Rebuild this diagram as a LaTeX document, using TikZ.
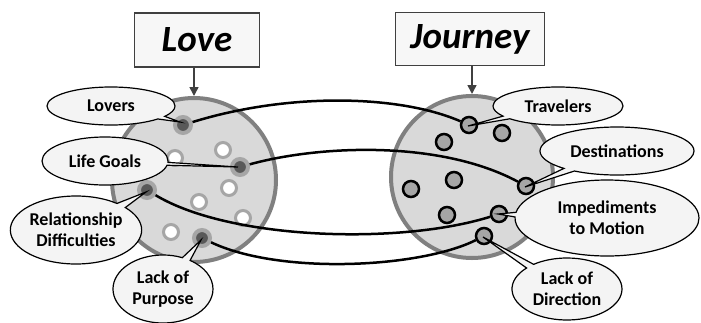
\documentclass[tikz,border=0pt]{standalone}
\usepackage{fontspec}
\setmainfont{Carlito}
\usetikzlibrary{shapes.callouts,arrows.meta}
\definecolor{circfill}{HTML}{D9D9D9}
\definecolor{circedge}{HTML}{808080}
\definecolor{halo}{HTML}{A6A6A6}
\definecolor{darkdot}{HTML}{595959}
\definecolor{bubfill}{HTML}{F4F4F4}
\definecolor{boxfill}{HTML}{F7F7F7}
\definecolor{boxedge}{HTML}{404040}
\tikzset{
  titlebox/.style={draw=boxedge,line width=1.8pt,fill=boxfill,inner sep=0pt,
    font=\fontsize{37}{40}\selectfont\bfseries\itshape},
  bigcirc/.style={circle,draw=circedge,fill=circfill,line width=4pt,inner sep=0pt},
  ldot/.style={circle,fill=darkdot,draw=halo,line width=4pt,minimum size=16pt,inner sep=0pt},
  wdot/.style={circle,fill=white,draw=halo,line width=3pt,minimum size=15pt,inner sep=0pt},
  rdot/.style={circle,fill=halo,draw=black,line width=2.5pt,minimum size=16pt,inner sep=0pt},
  link/.style={line width=2.5pt,black},
  downarrow/.style={draw=boxedge,line width=1.6pt,-{Triangle[length=9pt,width=9pt]}},
  bubble/.style={ellipse callout,draw=black,fill=bubfill,line width=1.2pt,inner sep=0pt,
    align=center,callout pointer arc=10,
    font=\fontsize{18}{21}\selectfont\bfseries},
}
\begin{document}
\begin{tikzpicture}[x=1pt,y=-1pt]
\useasboundingbox (0,0) rectangle (701,322);
% title boxes
\node[titlebox,minimum width=125pt,minimum height=54pt] (love) at (197,40) {Love};
\node[titlebox,minimum width=149pt,minimum height=53pt] (journey) at (470,39) {Journey};
% big circles
\node[bigcirc,minimum size=164pt] (cl) at (194,180) {};
\node[bigcirc,minimum size=162pt] (cr) at (472,177) {};
\draw[downarrow] (love.south -| cl.north) -- (cl.north);
\draw[downarrow] (journey.south -| cr.north) -- (cr.north);
% left dots
\node[wdot] (w1) at (175,158) {};
\node[wdot] (w2) at (223,150) {};
\node[wdot] (w3) at (229,188) {};
\node[wdot] (w4) at (199,202) {};
\node[wdot] (w5) at (243,218) {};
\node[wdot] (w6) at (171,232) {};
\node[ldot] (lov) at (183,125) {};
\node[ldot] (lg) at (240,167) {};
\node[ldot] (rd) at (147,190) {};
\node[ldot] (lp) at (202,238) {};
% right dots
\node[rdot] (r1) at (502,133) {};
\node[rdot] (r2) at (444,142) {};
\node[rdot] (r3) at (454,180) {};
\node[rdot] (r4) at (411,189) {};
\node[rdot] (r5) at (447,215) {};
\node[rdot] (tr) at (469,125) {};
\node[rdot] (de) at (526,186) {};
\node[rdot] (im) at (499,214) {};
\node[rdot] (ld) at (484,236) {};
% links
\draw[link] (lov) .. controls (290,92) and (400,95) .. (tr);
\draw[link] (lg) .. controls (320,145) and (440,140) .. (de);
\draw[link] (rd) .. controls (230,240) and (400,245) .. (im);
\draw[link] (lp) .. controls (280,275) and (420,268) .. (ld);
% bubbles
\node[bubble,minimum width=128pt,minimum height=38pt,callout absolute pointer={(180,122)}] (bLov) at (111,106) {Lovers};
\node[bubble,minimum width=126pt,minimum height=48pt,callout pointer arc=7,callout absolute pointer={(238,167)}] (bLG) at (105,161) {Life Goals};
\node[bubble,minimum width=128pt,minimum height=68pt,callout absolute pointer={(146,192)}] (bRD) at (76,230) {Relationship\\Difficulties};
\node[bubble,minimum width=100pt,minimum height=68pt,callout absolute pointer={(201,240)}] (bLP) at (163,289) {Lack of\\Purpose};
\node[bubble,minimum width=130pt,minimum height=38pt,callout absolute pointer={(468,126)}] (bTr) at (558,106) {Travelers};
\node[bubble,minimum width=154pt,minimum height=48pt,callout absolute pointer={(525,187)}] (bDe) at (617,151) {Destinations};
\node[bubble,minimum width=184pt,minimum height=76pt,callout pointer arc=7,callout absolute pointer={(498,214)}] (bIm) at (607,218) {Impediments\\to Motion};
\node[bubble,minimum width=110pt,minimum height=62pt,callout absolute pointer={(483,237)}] (bLD) at (567,289) {Lack of\\Direction};
\end{tikzpicture}
\end{document}
